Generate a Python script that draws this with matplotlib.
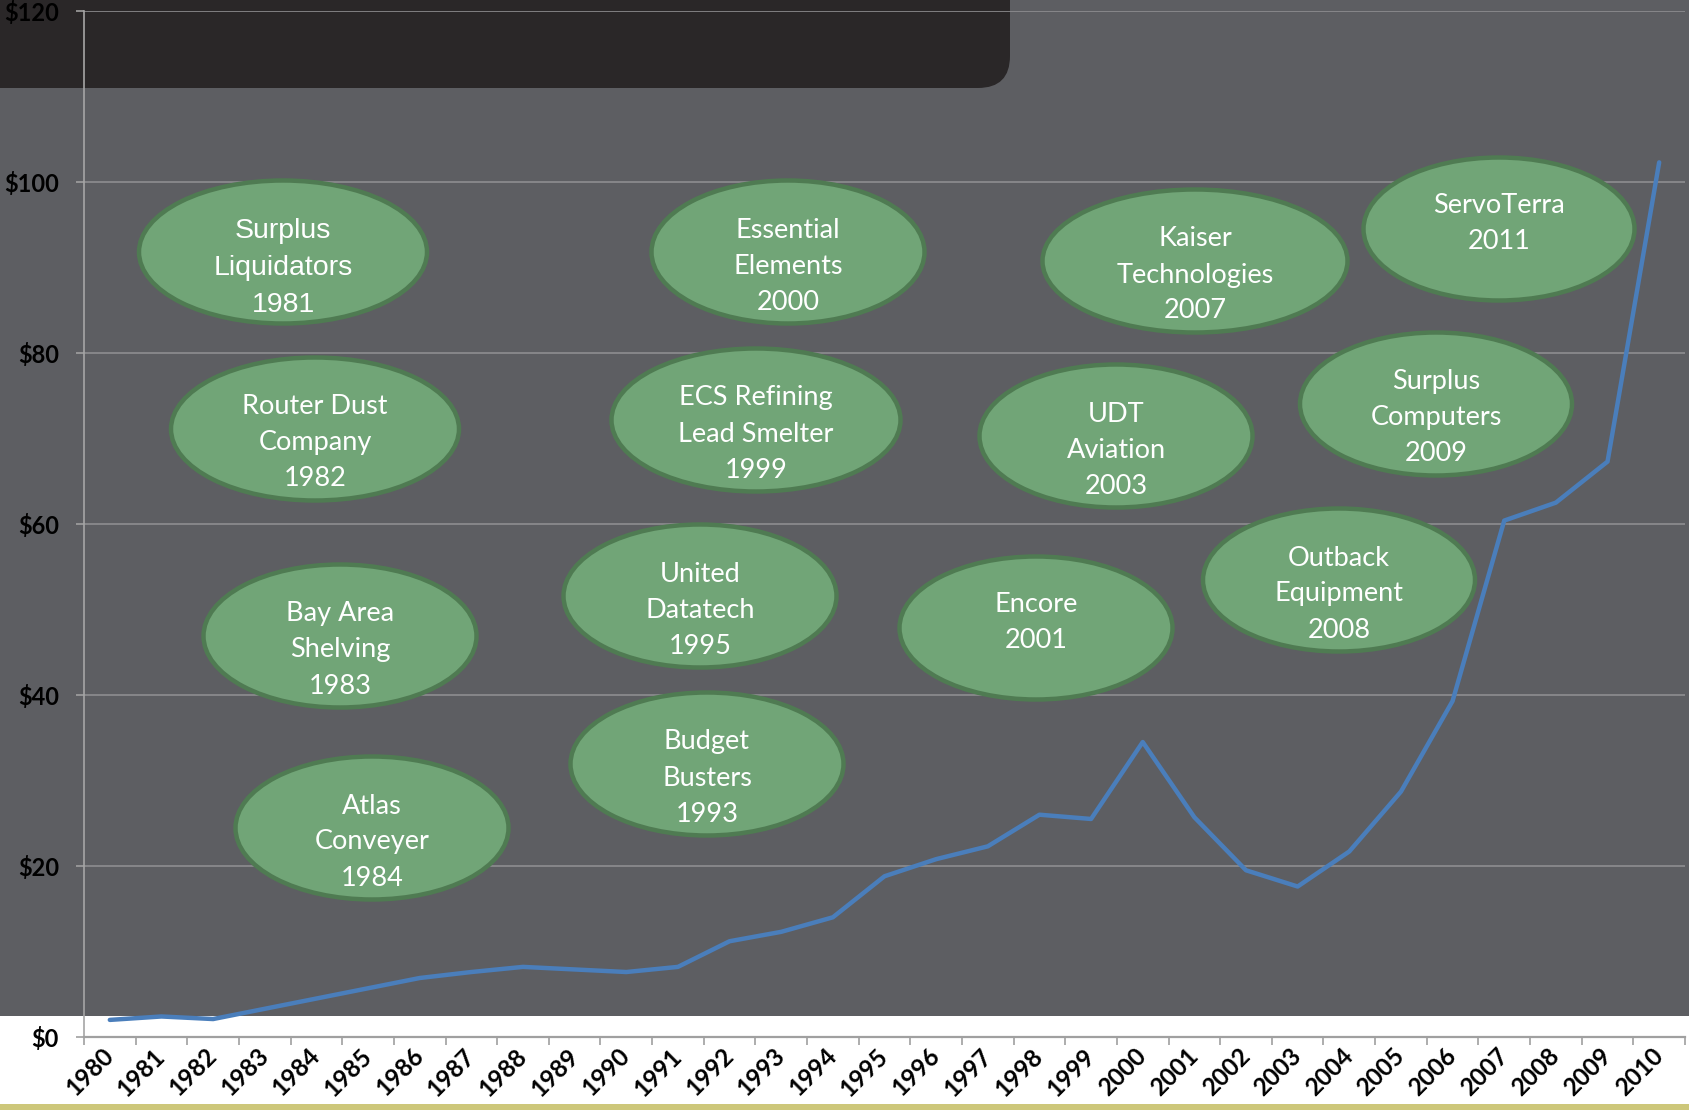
import matplotlib
matplotlib.use("Agg")
import matplotlib.pyplot as plt
from matplotlib.patches import Ellipse, Rectangle, FancyBboxPatch
import numpy as np

# data
years = [str(y) for y in range(1980, 2011)]
values = [2.0, 2.4, 2.1, 3.3, 4.5, 5.7, 6.9, 7.6, 8.2, 7.9,
          7.6, 8.2, 11.2, 12.3, 14.0, 18.8, 20.8, 22.3, 26.0, 25.5,
          34.5, 25.7, 19.5, 17.6, 21.7, 28.7, 39.3, 60.4, 62.5, 67.3, 102.3]
yticks = [0, 20, 40, 60, 80, 100, 120]
ytick_labels = ['$0', '$20', '$40', '$60', '$80', '$100', '$120']

bubble_labels = ['Surplus\nLiquidators\n1981', 'Router Dust\nCompany\n1982',
                 'Bay Area\nShelving\n1983', 'Atlas\nConveyer\n1984',
                 'Essential\nElements\n2000', 'ECS Refining\nLead Smelter\n1999',
                 'United\nDatatech\n1995', 'Budget\nBusters\n1993',
                 'Kaiser\nTechnologies\n2007', 'UDT\nAviation\n2003',
                 'Encore\n2001', 'ServoTerra\n2011',
                 'Surplus\nComputers\n2009', 'Outback\nEquipment\n2008']

# bubble layout in figure pixels (cx, cy from top, width)
bubble_pos = [(283, 252, 288), (315, 429, 288), (340, 636, 273), (372, 828, 273),
              (788, 252, 273), (756, 420, 289), (700, 596, 273), (707, 764, 273),
              (1195, 261, 305), (1116, 436, 273), (1036, 628, 273), (1499, 229, 271),
              (1436, 404, 272), (1339, 580, 272)]

W, H = 1690, 1110
BG = '#5d5e62'
fig = plt.figure(figsize=(W / 100, H / 100), dpi=100, facecolor=BG)

# slide decoration: white strip at the bottom, olive line, black title box
fig.patches.append(Rectangle((0, 0), 1, (H - 1016) / H, transform=fig.transFigure,
                             facecolor='white', edgecolor='none', zorder=0))
fig.patches.append(Rectangle((0, 0), 1, 6 / H, transform=fig.transFigure,
                             facecolor='#cdc77a', edgecolor='none', zorder=0))
fig.patches.append(FancyBboxPatch((-100, H - 88), 1110, 300,
                                  boxstyle='round,pad=0,rounding_size=32',
                                  transform=None, facecolor='#2a2728', edgecolor='none', zorder=0))

ax = fig.add_axes([84 / W, (H - 1037) / H, (1685 - 84) / W, 1026 / H])
ax.set_zorder(1)
ax.patch.set_alpha(0)

x = np.arange(len(years))
ax.plot(x, values, color='#4a7ebb', lw=3.2, solid_capstyle='round', zorder=5)

ax.set_xlim(-0.5, len(years) - 0.5)
ax.set_ylim(0, 120)
ax.set_yticks(yticks)
ax.set_yticklabels(ytick_labels)
ax.set_xticks(x)
ax.set_xticklabels(years, rotation=45, ha='right', va='center', rotation_mode='anchor')
ax.set_xticks(np.arange(-0.5, len(years)), minor=True)
ax.tick_params(axis='x', which='major', length=0, pad=11)
ax.tick_params(axis='x', which='minor', length=6, color='#a0a0a0', width=1.2)
ax.tick_params(axis='y', length=6, color='#a0a0a0', width=1.2, pad=12)
for lab in ax.get_yticklabels():
    lab.set_fontsize(17)
for lab in ax.get_xticklabels():
    lab.set_fontsize(17.5)
for lab in ax.get_xticklabels() + ax.get_yticklabels():
    lab.set_family(['Lato', 'DejaVu Sans'])
    lab.set_fontweight('bold')
    lab.set_color('black')

ax.grid(axis='y', color='#8e8e90', lw=1.2)
ax.set_axisbelow(True)
for s in ['top', 'right']:
    ax.spines[s].set_visible(False)
ax.spines['left'].set_color('#a6a6a6')
ax.spines['bottom'].set_color('#a0a0a0')
ax.spines['left'].set_linewidth(1.2)
ax.spines['bottom'].set_linewidth(1.6)

# company bubbles
for i, (lab, (cx, cy, w)) in enumerate(zip(bubble_labels, bubble_pos)):
    e = Ellipse((cx / W, 1 - cy / H), w / W, 143 / H, transform=fig.transFigure,
                facecolor='#71a577', edgecolor='#4f7b52', lw=3.2, zorder=3)
    fig.patches.append(e)
    nlines = lab.count('\n') + 1
    if i == 0:
        fam, fs, dy = ['Liberation Sans', 'DejaVu Sans'], 20.5, 16
    else:
        fam, fs, dy = ['Lato', 'DejaVu Sans'], 19.5, (14 if nlines == 3 else -5)
    fig.text(cx / W, 1 - (cy + dy) / H, lab, ha='center', va='center', color='white',
             fontsize=fs, family=fam, linespacing=1.55, zorder=4)

fig.savefig('out.png', dpi=100, facecolor=BG)
